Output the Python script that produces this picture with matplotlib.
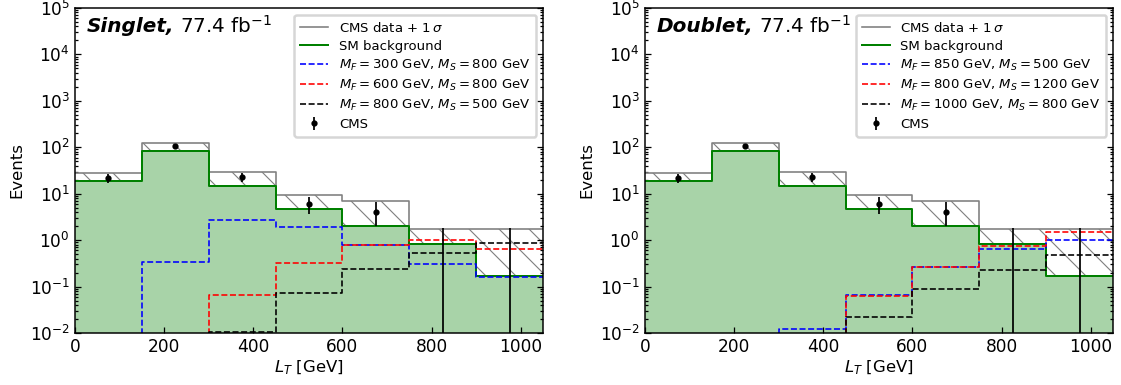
import numpy as np
import matplotlib
matplotlib.use("Agg")
import matplotlib.pyplot as plt

# L_T bins [GeV]
edges = [0, 150, 300, 450, 600, 750, 900, 1050]
centers = [75, 225, 375, 525, 675, 825, 975]

# CMS data and uncertainties
cms_data = [22, 106, 23, 6, 4, 0, 0]
cms_err_lo = [4.7, 10.3, 4.8, 2.4, 2.0, 0, 0]
cms_err_hi = [4.7, 10.3, 4.8, 2.6, 2.7, 1.8, 1.8]
cms_upper = [27.4, 125, 29.6, 9.3, 7.0, 1.75, 1.75]

# SM background
sm_bkg = [19, 82.8, 14.8, 4.7, 2.0, 0.82, 0.168]

# signal benchmarks
singlet_labels = [r"$M_F = 300$ GeV, $M_S = 800$ GeV",
                  r"$M_F = 600$ GeV, $M_S = 800$ GeV",
                  r"$M_F = 800$ GeV, $M_S = 500$ GeV"]
singlet_blue = [0, 0.33, 2.7, 1.94, 0.80, 0.31, 0.157]
singlet_red = [0, 0, 0.067, 0.32, 0.78, 1.0, 0.66]
singlet_black = [0, 0, 0.0106, 0.071, 0.245, 0.54, 0.85]

doublet_labels = [r"$M_F = 850$ GeV, $M_S = 500$ GeV",
                  r"$M_F = 800$ GeV, $M_S = 1200$ GeV",
                  r"$M_F = 1000$ GeV, $M_S = 800$ GeV"]
doublet_blue = [0, 0, 0.0119, 0.067, 0.266, 0.64, 1.03]
doublet_red = [0, 0, 0, 0.064, 0.265, 0.75, 1.5]
doublet_black = [0, 0, 0, 0.022, 0.087, 0.23, 0.48]

y_ticks = [1e-2, 1e-1, 1e0, 1e1, 1e2, 1e3, 1e4, 1e5]

plt.rcParams["hatch.color"] = "grey"
plt.rcParams["hatch.linewidth"] = 0.45

TICK_FS = 6.8
LABEL_FS = 6.6


def steps(vals):
    return np.append(vals, vals[-1])


def draw_panel(ax, name, sig, labels):
    handles = []
    # hatched band between background and data + 1 sigma
    ax.stairs(cms_upper, edges, baseline=sm_bkg, fill=True, facecolor="none",
              edgecolor="grey", hatch="\\\\", linewidth=0)
    h, = ax.plot(edges, steps(cms_upper), drawstyle="steps-post", color="grey",
                 lw=0.65, label=r"CMS data + $1\,\sigma$")
    handles.append(h)
    ax.stairs(sm_bkg, edges, fill=True, color="green", alpha=0.34, linewidth=0)
    h, = ax.plot(edges, steps(sm_bkg), drawstyle="steps-post", color="green",
                 lw=0.8, label="SM background")
    handles.append(h)
    for vals, col, lab in zip(sig, ["blue", "red", "black"], labels):
        h, = ax.plot(edges, steps(vals), drawstyle="steps-post", color=col,
                     ls="--", lw=0.65, label=lab)
        handles.append(h)
    h = ax.errorbar(centers, cms_data, yerr=[cms_err_lo, cms_err_hi], fmt="o",
                    color="black", ms=1.5, elinewidth=0.7, label="CMS")
    handles.append(h)

    ax.set_yscale("log")
    ax.set_xlim(0, 1050)
    ax.set_yticks(y_ticks)
    ax.set_ylim(1e-2, 1e5)
    ax.set_xlabel(r"$L_T$ [GeV]", fontsize=LABEL_FS, labelpad=1)
    ax.set_ylabel("Events", fontsize=LABEL_FS, labelpad=2)
    ax.tick_params(which="both", direction="in", right=True, labelsize=TICK_FS,
                   width=0.5, pad=2)
    ax.tick_params(which="major", length=2.2)
    ax.tick_params(which="minor", length=1.2)
    for s in ax.spines.values():
        s.set_linewidth(0.6)

    ax.legend(handles=handles, loc="upper right", fontsize=5.3,
              handlelength=2.1, labelspacing=0.38, borderpad=0.45,
              handletextpad=0.8)

    # title: bold italic model name followed by luminosity
    t = ax.text(0.025, 0.925, name + ",", transform=ax.transAxes, fontsize=8,
                weight="bold", style="italic", va="baseline", ha="left")
    fig.canvas.draw()
    bb = t.get_window_extent().transformed(ax.transAxes.inverted())
    ax.text(bb.x1, 0.925, r" 77.4 fb$^{-1}$", transform=ax.transAxes,
            fontsize=8, va="baseline", ha="left")


fig = plt.figure(figsize=(1121 / 180, 385 / 180), dpi=180)
ax1 = fig.add_axes([75 / 1121, 52 / 385, 468 / 1121, 325 / 385])
ax2 = fig.add_axes([645 / 1121, 52 / 385, 468 / 1121, 325 / 385])

draw_panel(ax1, "Singlet", [singlet_blue, singlet_red, singlet_black], singlet_labels)
draw_panel(ax2, "Doublet", [doublet_blue, doublet_red, doublet_black], doublet_labels)

fig.savefig("out.png", dpi=180)
